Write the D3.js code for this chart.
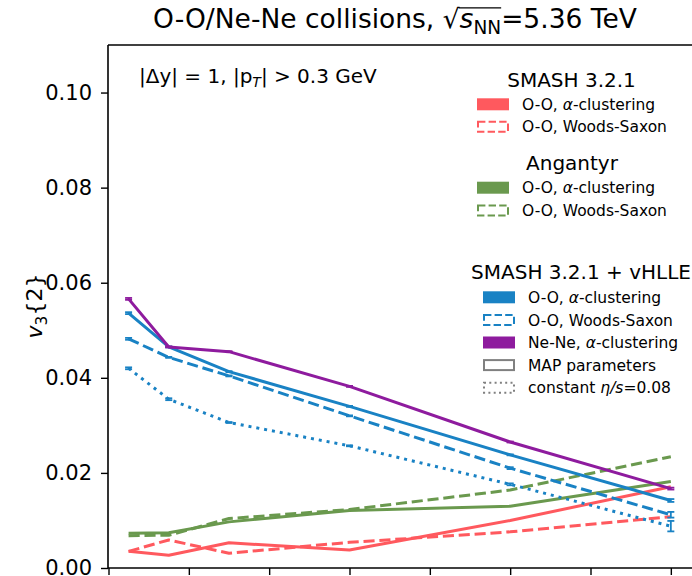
<!DOCTYPE html>
<html>
<head>
<meta charset="utf-8">
<script src="https://cdn.jsdelivr.net/npm/d3@7"></script>
<style>
  body { margin: 0; background: #ffffff; }
  text { font-family: "DejaVu Sans", sans-serif; fill: #000; }
</style>
</head>
<body>
<div id="chart"></div>
<script>
// centrality bins (bin centres, %) and tick values
var centrality = [2.5, 7.5, 15, 30, 50, 70];
var xTicks = [0, 10, 20, 30, 40, 50, 60, 70];
var yTicks = [0, 0.02, 0.04, 0.06, 0.08, 0.1];

// SMASH 3.2.1
var smashAlpha = [0.0035, 0.0027, 0.0053, 0.0038, 0.0100, 0.0171];
var smashWS = [0.0035, 0.0059, 0.0031, 0.0054, 0.0076, 0.0108];
// Angantyr
var angAlpha = [0.0073, 0.0074, 0.0097, 0.0121, 0.0130, 0.0182];
var angWS = [0.0068, 0.0069, 0.0104, 0.0123, 0.0164, 0.0234];
// SMASH 3.2.1 + vHLLE
var hydroAlpha = [0.0536, 0.0465, 0.0413, 0.0340, 0.0238, 0.0142];
var hydroWS = [0.0482, 0.0443, 0.0404, 0.0320, 0.0210, 0.0112];
var hydroNe = [0.0566, 0.0465, 0.0455, 0.0382, 0.0265, 0.0167];
var hydroEta = [0.0420, 0.0355, 0.0306, 0.0257, 0.0176, 0.0088];
// statistical errors of the hydro runs
var errAlpha = [0.0002, 0.0001, 0.0001, 0.0001, 0.0001, 0.0003];
var errWS = [0.0002, 0.0001, 0.0001, 0.0001, 0.0002, 0.0006];
var errNe = [0.0002, 0.0001, 0.0001, 0.0001, 0.0001, 0.0002];
var errEta = [0.0002, 0.0002, 0.0001, 0.0001, 0.0002, 0.0011];

// legend texts (*...* = italic)
var smashLabels = ["O-O, *α*-clustering", "O-O, Woods-Saxon"];
var angLabels = ["O-O, *α*-clustering", "O-O, Woods-Saxon"];
var hydroLabels = ["O-O, *α*-clustering", "O-O, Woods-Saxon", "Ne-Ne, *α*-clustering",
  "MAP parameters", "constant *η/s*=0.08"];

var red = "#ff595e", green = "#6a994e", blue = "#1982c4", purple = "#8e1b9e", gray = "#808080";

var width = 692, height = 576;
var lw = 3;
var dash = "11.1,4.8", dot = "3,4.95";

var svg = d3.select("#chart").append("svg")
  .attr("width", width)
  .attr("height", height);

var x = d3.scaleLinear().domain([0, 75]).range([108.5, 711]);
var y = d3.scaleLinear().domain([0, 0.11]).range([568, 45]);

// write a run list into a text element, subscripts are shifted with dy
function rich(sel, runs, fs) {
  var shift = 0;
  runs.forEach(function (r) {
    var ts = sel.append("tspan").text(r.t);
    if (r.italic) ts.attr("font-style", "italic");
    var target = r.sub ? 0.22 * fs : 0;
    if (target != shift) {
      ts.attr("dy", target - shift);
      shift = target;
    }
    if (r.sub) ts.attr("font-size", fs * 0.7);
  });
  return sel;
}

function parseLabel(s) {
  return s.split("*").map(function (t, i) {
    return { t: t, italic: i % 2 == 1 };
  }).filter(function (r) { return r.t.length > 0; });
}

// axes
var yAxis = d3.axisLeft(y).tickValues(yTicks).tickFormat(d3.format(".2f"))
  .tickSize(7).tickPadding(9);
var gy = svg.append("g").attr("transform", "translate(108,0)").call(yAxis);
gy.select(".domain").remove();
gy.selectAll(".tick line").attr("stroke", "#000").attr("stroke-width", 1.4);
gy.selectAll(".tick text").attr("font-size", 21).attr("font-family", "DejaVu Sans");

var xAxis = d3.axisBottom(x).tickValues(xTicks).tickFormat("").tickSize(7);
var gx = svg.append("g").attr("transform", "translate(0,568)").call(xAxis);
gx.select(".domain").remove();
gx.selectAll(".tick line").attr("stroke", "#000").attr("stroke-width", 1.4);

// series
var line = d3.line()
  .x(function (d, i) { return x(centrality[i]); })
  .y(function (d) { return y(d); });

var series = [
  { v: smashAlpha, c: red, d: null },
  { v: smashWS, c: red, d: dash },
  { v: angAlpha, c: green, d: null },
  { v: angWS, c: green, d: dash },
  { v: hydroAlpha, c: blue, d: null, e: errAlpha },
  { v: hydroWS, c: blue, d: dash, e: errWS },
  { v: hydroNe, c: purple, d: null, e: errNe },
  { v: hydroEta, c: blue, d: dot, e: errEta }
];

series.forEach(function (s) {
  svg.append("path")
    .attr("d", line(s.v))
    .attr("fill", "none")
    .attr("stroke", s.c)
    .attr("stroke-width", lw)
    .attr("stroke-linejoin", "round")
    .attr("stroke-dasharray", s.d);

  if (s.e) {
    var eb = svg.append("g").attr("stroke", s.c).attr("stroke-width", 1.8);
    s.v.forEach(function (v, i) {
      var cx = x(centrality[i]);
      eb.append("line").attr("x1", cx).attr("x2", cx)
        .attr("y1", y(v - s.e[i])).attr("y2", y(v + s.e[i]));
      [v - s.e[i], v + s.e[i]].forEach(function (w) {
        eb.append("line").attr("x1", cx - 3.5).attr("x2", cx + 3.5)
          .attr("y1", y(w)).attr("y2", y(w));
      });
    });
  }
});

// spines
var spines = svg.append("g").attr("stroke", "#000").attr("stroke-width", 1.6);
spines.append("line").attr("x1", 108).attr("x2", 108).attr("y1", 45).attr("y2", 568);
spines.append("line").attr("x1", 108).attr("x2", width).attr("y1", 45).attr("y2", 45);
spines.append("line").attr("x1", 108).attr("x2", width).attr("y1", 568).attr("y2", 568);

// title with square root
var title = svg.append("text").attr("x", 395).attr("y", 28)
  .attr("text-anchor", "middle").attr("font-size", 26.5);
var titleRuns = [
  { t: "O-O/Ne-Ne collisions, " },
  { t: "√" },
  { t: "s", italic: true },
  { t: "NN", sub: true },
  { t: "=5.36 TeV" }
];
rich(title, titleRuns, 26.5);
var n0 = titleRuns[0].t.length;
var node = title.node();
var rootBox = node.getExtentOfChar(n0);
var lastBox = node.getExtentOfChar(n0 + 3);
svg.append("line")
  .attr("x1", rootBox.x + rootBox.width - 1)
  .attr("x2", lastBox.x + lastBox.width)
  .attr("y1", 28 - 0.76 * 26.5).attr("y2", 28 - 0.76 * 26.5)
  .attr("stroke", "#000").attr("stroke-width", 1.3);

// y label
var ylab = svg.append("text")
  .attr("transform", "translate(42,306) rotate(-90)")
  .attr("text-anchor", "middle").attr("font-size", 22);
rich(ylab, [{ t: "v", italic: true }, { t: "3", sub: true }, { t: "{2}" }], 22);

// cut annotation
var note = svg.append("text").attr("x", 139).attr("y", 83).attr("font-size", 20);
rich(note, [{ t: "|Δy| = 1, |p" }, { t: "T", italic: true, sub: true }, { t: "| > 0.3 GeV" }], 20);

// legends
function legend(titleText, titleX, titleY, labels, handles, hx, row0, step) {
  var g = svg.append("g");
  g.append("text").attr("x", titleX).attr("y", titleY)
    .attr("text-anchor", "middle").attr("font-size", 20).text(titleText);
  labels.forEach(function (lab, i) {
    var cy = row0 + i * step;
    var h = handles[i];
    var r = g.append("rect").attr("x", hx).attr("y", cy - 6)
      .attr("width", 32).attr("height", 12);
    if (h.fill) {
      r.attr("fill", h.c);
    } else {
      r.attr("x", hx + 1).attr("y", cy - 5).attr("width", 30).attr("height", 10)
        .attr("fill", "none").attr("stroke", h.c).attr("stroke-width", 2)
        .attr("stroke-dasharray", h.d);
    }
    var t = g.append("text").attr("x", hx + 45).attr("y", cy + 5.6).attr("font-size", 15.5);
    rich(t, parseLabel(lab), 15.5);
  });
}

legend("SMASH 3.2.1", 571.5, 86.7, smashLabels,
  [{ fill: true, c: red }, { c: red, d: "7.4,3.2" }], 477, 104.3, 22.4);
legend("Angantyr", 572, 170, angLabels,
  [{ fill: true, c: green }, { c: green, d: "7.4,3.2" }], 477, 187.7, 22.8);
legend("SMASH 3.2.1 + vHLLE", 581, 278.5, hydroLabels,
  [{ fill: true, c: blue }, { c: blue, d: "7.4,3.2" }, { fill: true, c: purple },
   { c: gray, d: null }, { c: gray, d: "2,3.3" }], 483, 297.3, 22.6);
</script>
</body>
</html>
